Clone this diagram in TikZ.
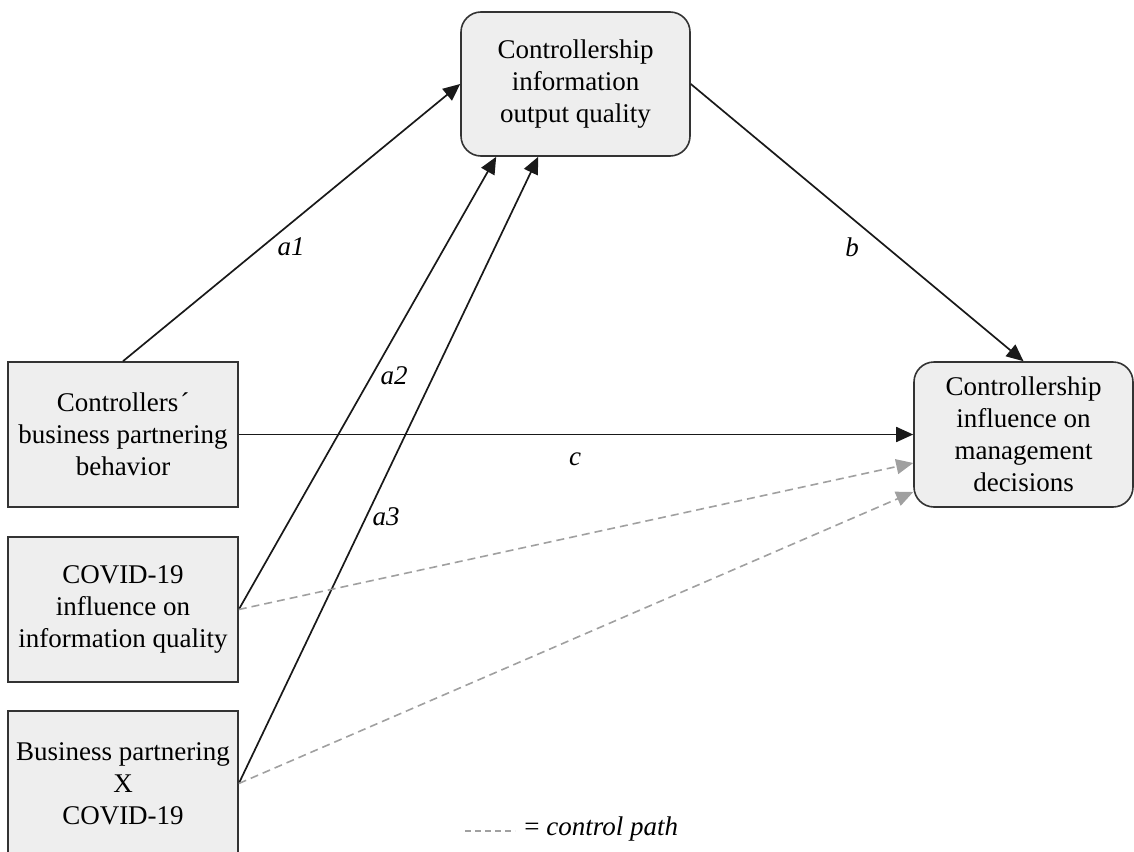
\documentclass[tikz,border=0pt]{standalone}
\usepackage{fontspec}
\setmainfont{Liberation Serif}
\usetikzlibrary{arrows.meta,calc}
\definecolor{boxfill}{HTML}{EEEEEE}
\definecolor{boxline}{HTML}{333333}
\definecolor{ctrlgray}{HTML}{A0A0A0}
\begin{document}
\begin{tikzpicture}[x=0.5pt,y=-0.5pt,
  txt/.style={font=\fontsize{13.5}{16}\selectfont, align=center},
  sqbox/.style={txt, draw=boxline, fill=boxfill, line width=0.8pt, inner sep=0pt},
  rbox/.style={sqbox, rounded corners=10pt},
  path/.style={line width=0.85pt, draw=black!90, -{Triangle[length=8.5pt,width=7.5pt]}},
  ctrl/.style={line width=0.8pt, draw=ctrlgray, dash pattern=on 4pt off 2.5pt, -{Triangle[length=8.5pt,width=7.5pt,fill=ctrlgray]}},
  lbl/.style={font=\fontsize{13.5}{16}\selectfont\itshape}
]
\useasboundingbox (0,0) rectangle (1134,851);
\node[rbox, minimum width=114.5pt, minimum height=72pt] (top) at (575.5,84)
  {Controllership\\information\\output quality};
\node[sqbox, minimum width=115pt, minimum height=72.5pt] (bp) at (123,434.5)
  {Controllers\kern1pt\raisebox{0pt}{\char"00B4}\\business partnering\\behavior};
\node[sqbox, minimum width=115pt, minimum height=72.5pt] (cov) at (123,609.5)
  {COVID-19\\influence on\\information quality};
\node[sqbox, minimum width=115pt, minimum height=72.5pt] (inter) at (123,783.5)
  {Business partnering\\X\\COVID-19};
\node[rbox, minimum width=109.5pt, minimum height=72.5pt] (out) at (1023.5,434.5)
  {Controllership\\influence on\\management\\decisions};

\coordinate (topA2) at ([xshift=18pt]top.south west);
\coordinate (topA3) at ([xshift=39pt]top.south west);
\coordinate (outC1) at ([yshift=-14.25pt]out.west);
\coordinate (outC2) at ([yshift=-28.75pt]out.west);

\draw[path] (bp.north) -- (top.west);
\draw[path] (cov.east) -- (topA2);
\draw[path] (inter.east) -- (topA3);
\draw[path] (top.east) -- (out.north);
\draw[path] (bp.east) -- (out.west);
\draw[ctrl] (cov.east) -- (outC1);
\draw[ctrl] (inter.east) -- (outC2);

\node[lbl] (la1) at (291,247) {a1};
\node[lbl] (la2) at (394,376) {a2};
\node[lbl] (la3) at (386,517) {a3};
\node[lbl] (lb) at (852,247) {b};
\node[lbl] (lc) at (575,459) {c};

\coordinate (legA) at (465,831);
\coordinate (legB) at (515,831);
\draw[line width=0.6pt, draw=ctrlgray, dash pattern=on 3pt off 2pt] (legA) -- (legB);
\node[anchor=west, font=\fontsize{13.5}{16}\selectfont, inner sep=0pt] (legtext) at (524,829) {= \textit{control path}};
\end{tikzpicture}
\end{document}
